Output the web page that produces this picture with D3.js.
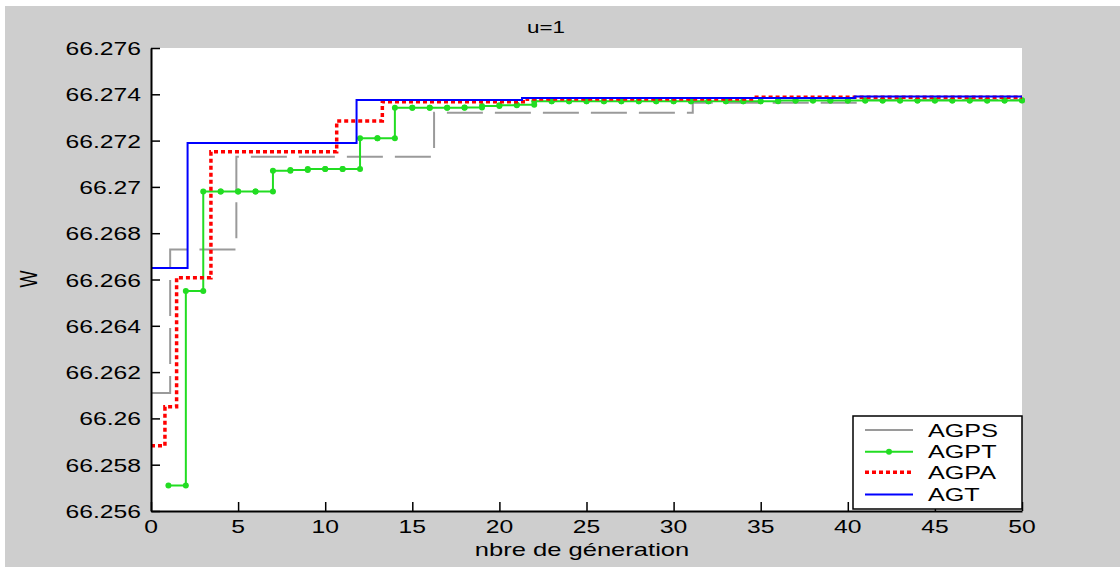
<!DOCTYPE html>
<html><head><meta charset="utf-8">
<script src="https://cdn.jsdelivr.net/npm/d3@7"></script>
<style>html,body{margin:0;padding:0;background:#fff}svg{display:block}text{font-family:"Liberation Sans",Arial,sans-serif;fill:#000}</style>
</head><body><svg id="c" width="1120" height="572"></svg>
<script>
// ---- data ----
const xTicks = [0,5,10,15,20,25,30,35,40,45,50];
const yTicks = [66.256,66.258,66.26,66.262,66.264,66.266,66.268,66.27,66.272,66.274,66.276];
const yTickLabels = ["66.256","66.258","66.26","66.262","66.264","66.266","66.268","66.27","66.272","66.274","66.276"];
const seriesNames = ["AGPS","AGPT","AGPA","AGT"];
// step series: [generation where level starts, W]
const agps = [[0,66.2611],[1.1,66.2673],[4.9,66.2713],[16.25,66.2732],[31.1,66.27364],[40.8,66.27375]];
const agpa = [[0,66.25882],[0.8,66.2605],[1.47,66.26608],[3.44,66.27152],[10.66,66.27285],[13.28,66.27368],[21.6,66.2738],[34.6,66.27387]];
const agt  = [[0,66.2665],[2.1,66.2719],[11.8,66.27375],[21.3,66.27384],[40.4,66.2739]];
// AGPT: one value per generation 1..50
const agptGen = d3.range(1,51);
const agptVal = [66.2571,66.2655,66.2698,66.2698,66.2698,66.2698,66.2707,66.27073,66.27077,66.27077,
  66.27077,66.2721,66.2721,66.27342,66.27342,66.27342,66.27342,66.27343,66.27349,66.27353,
  66.27355,66.2737,66.2737,66.2737,66.2737,66.2737,66.2737,66.2737,66.2737,66.2737,
  66.2737,66.2737,66.2737,66.2737,66.2737,66.27373,66.27373,66.27373,66.27373,66.27373,
  66.27373,66.27373,66.27373,66.27373,66.27373,66.27373,66.27373,66.27373,66.27373,66.27374];

// ---- layout ----
const L=151,R=1022,T=48,B=511;
const svg=d3.select("#c");
svg.append("rect").attr("x",5).attr("y",6).attr("width",1115).attr("height",561).attr("fill","#cecece");
svg.append("rect").attr("x",L).attr("y",T).attr("width",R-L).attr("height",B-T).attr("fill","#fff");

const x=d3.scaleLinear().domain([0,50]).range([L,R]);
const y=d3.scaleLinear().domain([66.256,66.276]).range([B,T]);

const stepLine=d3.line().x(d=>x(d[0])).y(d=>y(d[1])).curve(d3.curveStepAfter);
const ext=s=>s.concat([[50,s[s.length-1][1]]]);

const gPlot=svg.append("g");
gPlot.append("path").attr("d",stepLine(ext(agps))).attr("fill","none").attr("stroke","#9a9a9a").attr("stroke-width",2).attr("stroke-dasharray","36,12");
const agptPts=agptGen.map((g,i)=>[g,agptVal[i]]);
gPlot.append("path").attr("d",stepLine(agptPts)).attr("fill","none").attr("stroke","#22dd22").attr("stroke-width",2);
const markers=[];
agptPts.forEach((p,i)=>{markers.push(p); if(i<agptPts.length-1) markers.push([agptPts[i+1][0],p[1]]);});
gPlot.selectAll("circle.m").data(markers).join("circle").attr("class","m")
  .attr("cx",d=>x(d[0])).attr("cy",d=>y(d[1])).attr("r",3).attr("fill","#22dd22");
gPlot.append("path").attr("d",stepLine(ext(agpa))).attr("fill","none").attr("stroke","#ff0000").attr("stroke-width",3.5).attr("stroke-dasharray","4,3");
gPlot.append("path").attr("d",stepLine(ext(agt))).attr("fill","none").attr("stroke","#0000ff").attr("stroke-width",2);

// ---- axes ----
const xa=svg.append("g").attr("transform",`translate(0,${B})`)
  .call(d3.axisBottom(x).tickValues(xTicks).tickSizeInner(-9).tickSizeOuter(0).tickFormat(""));
xa.select(".domain").attr("stroke","#000").attr("stroke-width",2);
xa.selectAll(".tick line").attr("stroke","#000").attr("stroke-width",1.5);
const ya=svg.append("g").attr("transform",`translate(${L},0)`)
  .call(d3.axisLeft(y).tickValues(yTicks).tickSizeInner(-9).tickSizeOuter(0).tickFormat(""));
ya.select(".domain").attr("stroke","#000").attr("stroke-width",2);
ya.selectAll(".tick line").attr("stroke","#000").attr("stroke-width",1.5);

function stext(px,py,str,size,sx,anchor){
  return svg.append("text").attr("transform",`translate(${px},${py}) scale(${sx},1)`)
    .attr("text-anchor",anchor).attr("font-size",size).text(str);
}
xTicks.forEach(v=>stext(x(v),533,String(v),19,1.3,"middle"));
yTicks.forEach((v,i)=>stext(141,y(v)+7,yTickLabels[i],19,1.3,"end"));
stext(582,556,"nbre de géneration",18,1.42,"middle");
stext(546,33,"u=1",16,1.4,"middle");
svg.append("text").attr("transform","translate(37,279) rotate(-90) scale(1,1.3)")
  .attr("text-anchor","middle").attr("font-size",18).text("W");

// ---- legend ----
const lg=svg.append("g");
lg.append("rect").attr("x",853).attr("y",416).attr("width",169).attr("height",93).attr("fill","#fff").attr("stroke","#000").attr("stroke-width",1.5);
const legY=[430,451.7,472.3,494.5];
const legStyle=[
  {c:"#9a9a9a",w:2,d:null},{c:"#22dd22",w:2,d:null},{c:"#ff0000",w:3.5,d:"4,3"},{c:"#0000ff",w:2,d:null}];
seriesNames.forEach((n,i)=>{
  const s=legStyle[i];
  const ln=lg.append("line").attr("x1",865).attr("x2",913).attr("y1",legY[i]).attr("y2",legY[i])
    .attr("stroke",s.c).attr("stroke-width",s.w);
  if(s.d) ln.attr("stroke-dasharray",s.d);
  if(n==="AGPT") lg.append("circle").attr("cx",889).attr("cy",legY[i]).attr("r",3).attr("fill",s.c);
  stext(928,legY[i]+6.5,n,18,1.4,"start");
});
</script></body></html>
